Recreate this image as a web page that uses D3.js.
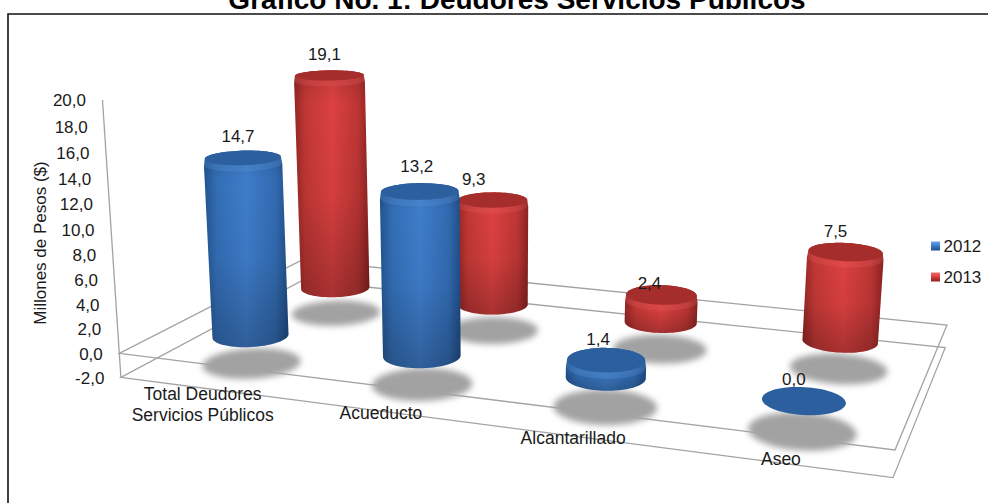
<!DOCTYPE html>
<html><head><meta charset="utf-8">
<script src="https://cdnjs.cloudflare.com/ajax/libs/d3/7.8.5/d3.min.js"></script>
<style>html,body{margin:0;padding:0;background:#fff}svg{display:block}text{font-family:"Liberation Sans",Arial,sans-serif}</style>
</head><body><div id="chart"></div>
<script>
const chartTitle = "Gráfico No. 1: Deudores Servicios Públicos";
const yAxisTitle = "Millones de Pesos ($)";
const categories = ["Total Deudores\nServicios Públicos", "Acueducto", "Alcantarillado", "Aseo"];
const seriesNames = ["2012", "2013"];
const values2012 = [14.7, 13.2, 1.4, 0.0];
const values2013 = [19.1, 9.3, 2.4, 7.5];
const zDomain = [-2, 20];

// layout constants: picture-plane position of the floor (value 0) and camera terms
const W = 988, H = 503;
const floor = {fl:[119.3,353.3], fr:[895,450], br:[947,325], bl:[302,260]};
const vert = {a:-1.06, b:-12.88, c:-0.00214};
const radiusFraction = 0.2;

const dx1=floor.fr[0]-floor.br[0], dy1=floor.fr[1]-floor.br[1],
      dx2=floor.bl[0]-floor.br[0], dy2=floor.bl[1]-floor.br[1],
      dx3=floor.fl[0]-floor.fr[0]+floor.br[0]-floor.bl[0],
      dy3=floor.fl[1]-floor.fr[1]+floor.br[1]-floor.bl[1],
      den=dx1*dy2-dx2*dy1,
      g=(dx3*dy2-dx2*dy3)/den, h=(dx1*dy3-dx3*dy1)/den;
const A=floor.fr[0]*(1+g)-floor.fl[0], B=floor.bl[0]*(1+h)-floor.fl[0],
      D=floor.fr[1]*(1+g)-floor.fl[1], E=floor.bl[1]*(1+h)-floor.fl[1];
function project(u,v,z){
  const w=1+g*u+h*v+vert.c*z;
  return [(A*u+B*v+floor.fl[0]+vert.a*z)/w,(D*u+E*v+floor.fl[1]+vert.b*z)/w];
}

const uScale=d3.scaleBand().domain(categories).range([-0.004,0.998]);
const vScale=d3.scaleBand().domain(seriesNames).range([0,1]);
const zScale=d3.scaleLinear().domain(zDomain).range(zDomain);
const fmt=d3.formatLocale({decimal:",",thousands:".",grouping:[3],currency:["$",""],minus:"-"}).format(".1f");
const ru=uScale.bandwidth()*radiusFraction, rv=vScale.bandwidth()*radiusFraction;

function circle(u,v,z,k){
  return d3.range(0,72).map(i=>{
    const t=i/72*2*Math.PI;
    return project(u+ru*k*Math.cos(t),v+rv*k*Math.sin(t),z);
  });
}
const closed=d3.line().curve(d3.curveLinearClosed);

const svg=d3.select("#chart").append("svg").attr("width",W).attr("height",H);
const defs=svg.append("defs");
defs.append("filter").attr("id","soft").attr("x","-20%").attr("y","-30%").attr("width","140%").attr("height","160%")
  .append("feGaussianBlur").attr("stdDeviation",3);
const palette={
  "2012":{edgeL:"#21548f",mid:"#3e7dcb",edgeR:"#1f4d88",cap:"#2c5f9e",light:"#6ba3e4"},
  "2013":{edgeL:"#932624",mid:"#dc4140",edgeR:"#8a2221",cap:"#a52d2b",light:"#ee6b6a"}
};
seriesNames.forEach(s=>{
  const p=palette[s];
  const gr=defs.append("linearGradient").attr("id","side"+s);
  [[0,p.edgeL],[.15,d3.interpolateRgb(p.edgeL,p.mid)(.62)],[.5,p.mid],[.85,d3.interpolateRgb(p.edgeR,p.mid)(.6)],[1,p.edgeR]]
    .forEach(d=>gr.append("stop").attr("offset",d[0]).attr("stop-color",d[1]));
  const lg=defs.append("linearGradient").attr("id","leg"+s).attr("x2",0).attr("y2",1);
  [[0,p.light],[.45,p.mid],[1,p.edgeR]].forEach(d=>lg.append("stop").attr("offset",d[0]).attr("stop-color",d[1]));
});
const shade=defs.append("linearGradient").attr("id","shade").attr("x2",0).attr("y2",1);
[[0,.12],[.15,0],[.55,.04],[1,.24]].forEach(d=>shade.append("stop").attr("offset",d[0]).attr("stop-color","#000").attr("stop-opacity",d[1]));

// frame
svg.append("path").attr("d","M8 503V14H988").attr("fill","none").attr("stroke","#111").attr("stroke-width",1.6);
// title
svg.append("text").attr("x",517).attr("y",8.5).attr("text-anchor","middle")
  .attr("font-size",28).attr("font-weight","bold").attr("fill","#000").text(chartTitle);

// marks description
const marks=[];
seriesNames.forEach((s,si)=>{
  const vals=si===0?values2012:values2013;
  categories.forEach((c,ci)=>marks.push({s,c,ci,value:vals[ci],
    u:uScale(c)+uScale.bandwidth()/2, v:vScale(s)+vScale.bandwidth()/2}));
});

// shadows on the lower floor
const shadowG=svg.append("g");
marks.forEach(m=>shadowG.append("path")
  .attr("d",closed(circle(m.u,m.v,zScale(zDomain[0])-0.35,1.3)))
  .attr("fill","#a2a2a2").attr("filter","url(#soft)"));

// floor outlines
[0,zDomain[0]].forEach(z=>{
  const pts=[[0,0],[1,0],[1,1],[0,1]].map(d=>project(d[0],d[1],zScale(z)));
  svg.append("path").attr("d",closed(pts)).attr("fill","none").attr("stroke","#a3a3a3").attr("stroke-width",1.3);
});
// value axis line
const axisEnds=zDomain.map(z=>project(0,0,zScale(z)));
svg.append("line").attr("x1",axisEnds[0][0]).attr("y1",axisEnds[0][1]).attr("x2",axisEnds[1][0]).attr("y2",axisEnds[1][1])
  .attr("stroke","#a3a3a3").attr("stroke-width",1.3);
// value ticks
zScale.ticks(11).forEach(t=>{
  const p=project(0,0,zScale(t));
  svg.append("text").attr("x",p[0]-16.5).attr("y",p[1]+0.5).attr("dy","0.35em").attr("text-anchor","end")
    .attr("font-size",17).attr("fill","#1a1a1a").text(fmt(t));
});
svg.append("text").attr("transform","translate(46,243) rotate(-90)").attr("text-anchor","middle")
  .attr("font-size",17).attr("fill","#1a1a1a").text(yAxisTitle);

// cylinders: far series first
const bevel=0.6;
[...marks].sort((a,b)=>b.v-a.v||a.u-b.u).forEach(m=>{
  const p=palette[m.s], z=zScale(m.value), g0=svg.append("g");
  if(m.value<=0){
    g0.append("path").attr("d",closed(circle(m.u,m.v,z,1))).attr("fill",p.cap);
    return;
  }
  const b=Math.min(bevel,m.value/2);
  const hull=d3.polygonHull([...circle(m.u,m.v,0,1),...circle(m.u,m.v,z-b,1),...circle(m.u,m.v,z,.97)]);
  g0.append("path").attr("d",closed(hull)).attr("fill",`url(#side${m.s})`);
  g0.append("path").attr("d",closed(hull)).attr("fill","url(#shade)");
  const rim=d3.polygonHull([...circle(m.u,m.v,z-b*.8,1),...circle(m.u,m.v,z,.97)]);
  g0.append("path").attr("d",closed(rim)).attr("fill",p.light).attr("opacity",.22);
  g0.append("path").attr("d",closed(circle(m.u,m.v,z,.97))).attr("fill",p.cap);
});

// data labels
const labelNudge={"2012":[[-5,-22],[-3,-25],[-8,-21],[-10,-22]],"2013":[[-5,-21],[-19,-21],[-12,-12],[-10,-21]]};
marks.forEach(m=>{
  const q=project(m.u,m.v,zScale(m.value)), n=labelNudge[m.s][m.ci];
  svg.append("text").attr("x",q[0]+n[0]).attr("y",q[1]+n[1]).attr("dy","0.35em").attr("text-anchor","middle")
    .attr("font-size",17).attr("fill","#1a1a1a").text(fmt(m.value));
});

// category labels
const catNudgeY=[6,2,1.5,-4];
categories.forEach((c,i)=>{
  const q=project(uScale(c)+uScale.bandwidth()/2,0,zScale(zDomain[0]));
  const t=svg.append("text").attr("text-anchor","middle").attr("font-size",17.5).attr("fill","#1a1a1a");
  c.split("\n").forEach((line,j)=>t.append("tspan").attr("x",q[0]).attr("y",q[1]+catNudgeY[i]+j*20.5).attr("dy","0.35em").text(line));
});

// legend
seriesNames.forEach((s,i)=>{
  const y=d3.scalePoint().domain(seriesNames).range([246,277])(s);
  svg.append("rect").attr("x",931).attr("y",y-4.5).attr("width",9).attr("height",9).attr("fill",`url(#leg${s})`);
  svg.append("text").attr("x",943.5).attr("y",y).attr("dy","0.35em").attr("font-size",17).attr("fill","#1a1a1a").text(s);
});
</script></body></html>
